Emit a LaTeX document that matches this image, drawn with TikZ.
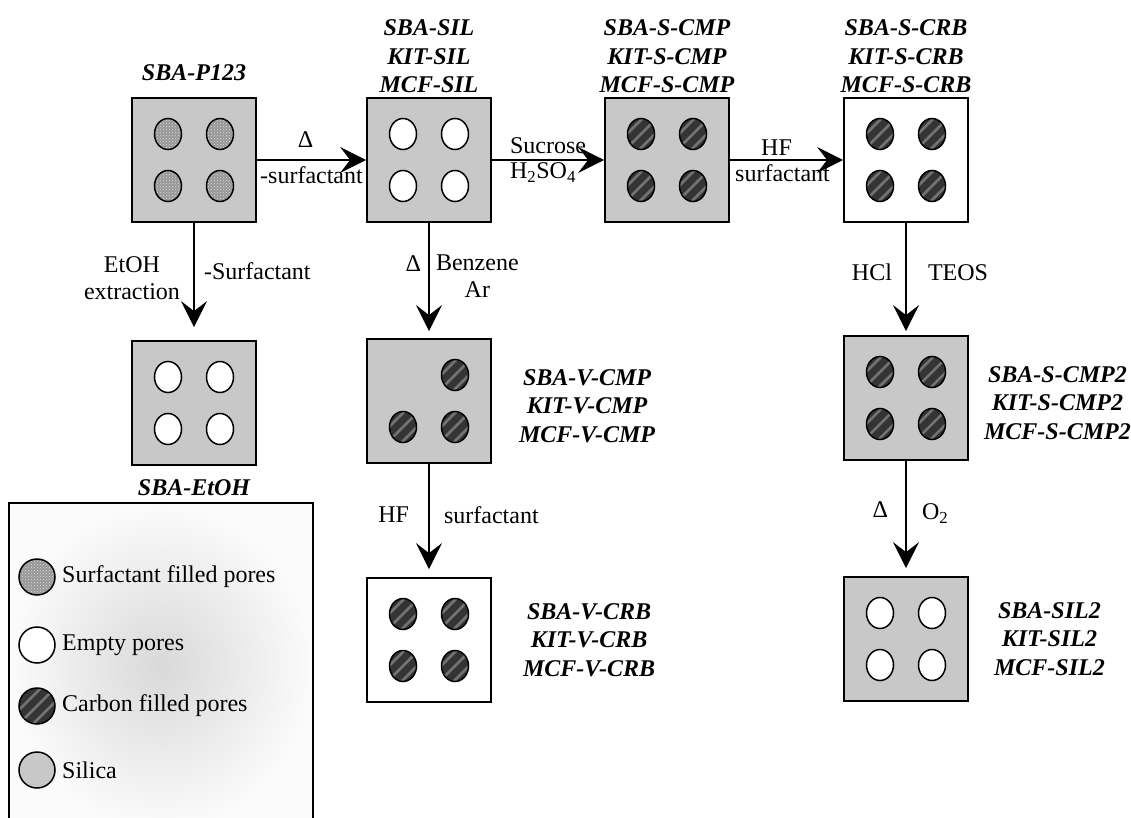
\documentclass[tikz,border=0pt]{standalone}
\usepackage{fontspec}
\setmainfont{Liberation Serif}
\usepackage{xcolor}
\usetikzlibrary{arrows.meta,patterns,calc,positioning}
\definecolor{silica}{RGB}{200,200,200}
\definecolor{carbon}{RGB}{52,52,52}
\definecolor{stripe}{RGB}{115,115,115}
\definecolor{surf}{RGB}{150,150,150}
\newcommand{\poregrid}[2]{%
  \foreach \dx/\dy in {-26/-26,26/-26,-26/26,26/26}
    \path[#2] ($(#1)+(\dx,\dy)$) ellipse [x radius=13.5,y radius=15.5];}

\begin{document}
\begin{tikzpicture}[x=1pt,y=-1pt,font=\fontsize{24}{26.5}\selectfont,
  box/.style={draw,line width=1.8pt,minimum size=124pt,inner sep=0pt,fill=silica},
  bare/.style={box,fill=white},
  code/.style={font=\fontsize{24}{28.5}\selectfont\bfseries\itshape,align=center,inner sep=0pt},
  flow/.style={line width=1.4pt,-{Stealth[length=26pt,width=26pt,inset=10pt]}},
  pore/.style={draw,line width=1.5pt},
  emptypore/.style={pore,fill=white},
  carbonpore/.style={pore,fill=carbon,path picture={
    \foreach \k in {-10,0,10}
      \draw[stripe,line width=2.5pt] ($(path picture bounding box.center)+(\k*0.7-20,\k*0.7+20)$) -- ++(40,-40);}},
  surfpore/.style={pore,fill=surf,path picture={
    \fill[pattern=crosshatch dots,pattern color=gray!25]
      (path picture bounding box.south west) rectangle (path picture bounding box.north east);}},
  silicapore/.style={pore,fill=silica}]
  \path[use as bounding box,clip] (0,0) rectangle (1131,818);

  % samples: top row
  \node[box] (p123) at (194,160) {};
  \node[box] (sil) at (429,160) {};
  \node[box] (scmp) at (667,160) {};
  \node[bare] (scrb) at (906,160) {};
  % samples: lower rows
  \node[box] (etoh) at (194,403) {};
  \node[box] (vcmp) at (429,401) {};
  \node[bare] (vcrb) at (429,640) {};
  \node[box] (scmp2) at (906,398) {};
  \node[box] (sil2) at (906,639) {};

  % pores
  \poregrid{p123}{surfpore}
  \poregrid{sil}{emptypore}
  \poregrid{scmp}{carbonpore}
  \poregrid{scrb}{carbonpore}
  \poregrid{etoh}{emptypore}
  \foreach \dx/\dy in {26/-26,-26/26,26/26}
    \path[carbonpore] ($(vcmp)+(\dx,\dy)$) ellipse [x radius=13.5,y radius=15.5];
  \poregrid{vcrb}{carbonpore}
  \poregrid{scmp2}{carbonpore}
  \poregrid{sil2}{emptypore}

  % sample names
  \node[code,above=16pt of p123] (np123) {SBA-P123};
  \node[code,above=4pt of sil] (nsil) {SBA-SIL\\KIT-SIL\\MCF-SIL};
  \node[code,above=4pt of scmp] (nscmp) {SBA-S-CMP\\KIT-S-CMP\\MCF-S-CMP};
  \node[code,above=4pt of scrb] (nscrb) {SBA-S-CRB\\KIT-S-CRB\\MCF-S-CRB};
  \node[code,below=14pt of etoh] (netoh) {SBA-EtOH};
  \node[code,right=27pt of vcmp,yshift=-5pt] (nvcmp) {SBA-V-CMP\\KIT-V-CMP\\MCF-V-CMP};
  \node[code,right=31pt of vcrb] (nvcrb) {SBA-V-CRB\\KIT-V-CRB\\MCF-V-CRB};
  \node[code,right=15pt of scmp2,yshift=-5pt] (nscmp2) {SBA-S-CMP2\\KIT-S-CMP2\\MCF-S-CMP2};
  \node[code,right=25pt of sil2] (nsil2) {SBA-SIL2\\KIT-SIL2\\MCF-SIL2};

  % treatments
  \draw[flow] (p123) -- node[above=8pt,xshift=-6pt] (t1a) {Δ}
    node[below=3pt] (t1b) {-surfactant} (sil);
  \draw[flow] (sil) -- node[above=2pt] (t2a) {Sucrose}
    node[below=-1pt,xshift=-5pt] (t2b) {H\textsubscript{2}SO\textsubscript{4}} (scmp);
  \draw[flow] (scmp) -- node[above=0pt,xshift=-10pt] (t3a) {HF}
    node[below=1pt,xshift=-4pt] (t3b) {surfactant} (scrb);
  \draw[flow,shorten >=13pt] (p123) --
    node[pos=0.47,left=10pt,align=center] (t4a) {EtOH\\extraction}
    node[pos=0.41,right=6pt] (t4b) {-Surfactant} (etoh);
  \draw[flow,shorten >=7pt] (sil) --
    node[pos=0.35,left=4pt] (t5a) {Δ}
    node[pos=0.46,right=3pt,align=center] (t5b) {Benzene\\Ar} (vcmp);
  \draw[flow,shorten >=8pt] (vcmp) --
    node[pos=0.45,left=16pt] (t6a) {HF}
    node[pos=0.45,right=11pt] (t6b) {surfactant} (vcrb);
  \draw[flow,shorten >=4pt] (scrb) --
    node[pos=0.44,left=10pt] (t7a) {HCl}
    node[pos=0.44,right=18pt] (t7b) {TEOS} (scmp2);
  \draw[flow,shorten >=8pt] (scmp2) --
    node[pos=0.42,left=14pt] (t8a) {Δ}
    node[pos=0.46,right=12pt] (t8b) {O\textsubscript{2}} (sil2);

  % legend
  \shade[inner color=gray!30,outer color=gray!3] (9,503) rectangle (313,830);
  \draw[line width=1.8pt] (9,830) -- (9,503) -- (313,503) -- (313,830);
  \foreach \y/\sty/\txt [count=\i] in {577/surfpore/Surfactant filled pores,
      645/emptypore/Empty pores,706/carbonpore/Carbon filled pores,770/silicapore/Silica}{
    \path[\sty] (37,\y) circle [radius=18];
    \node[anchor=west,inner sep=0pt] (key\i) at (62,\y) {\txt};
  }
\end{tikzpicture}
\end{document}
